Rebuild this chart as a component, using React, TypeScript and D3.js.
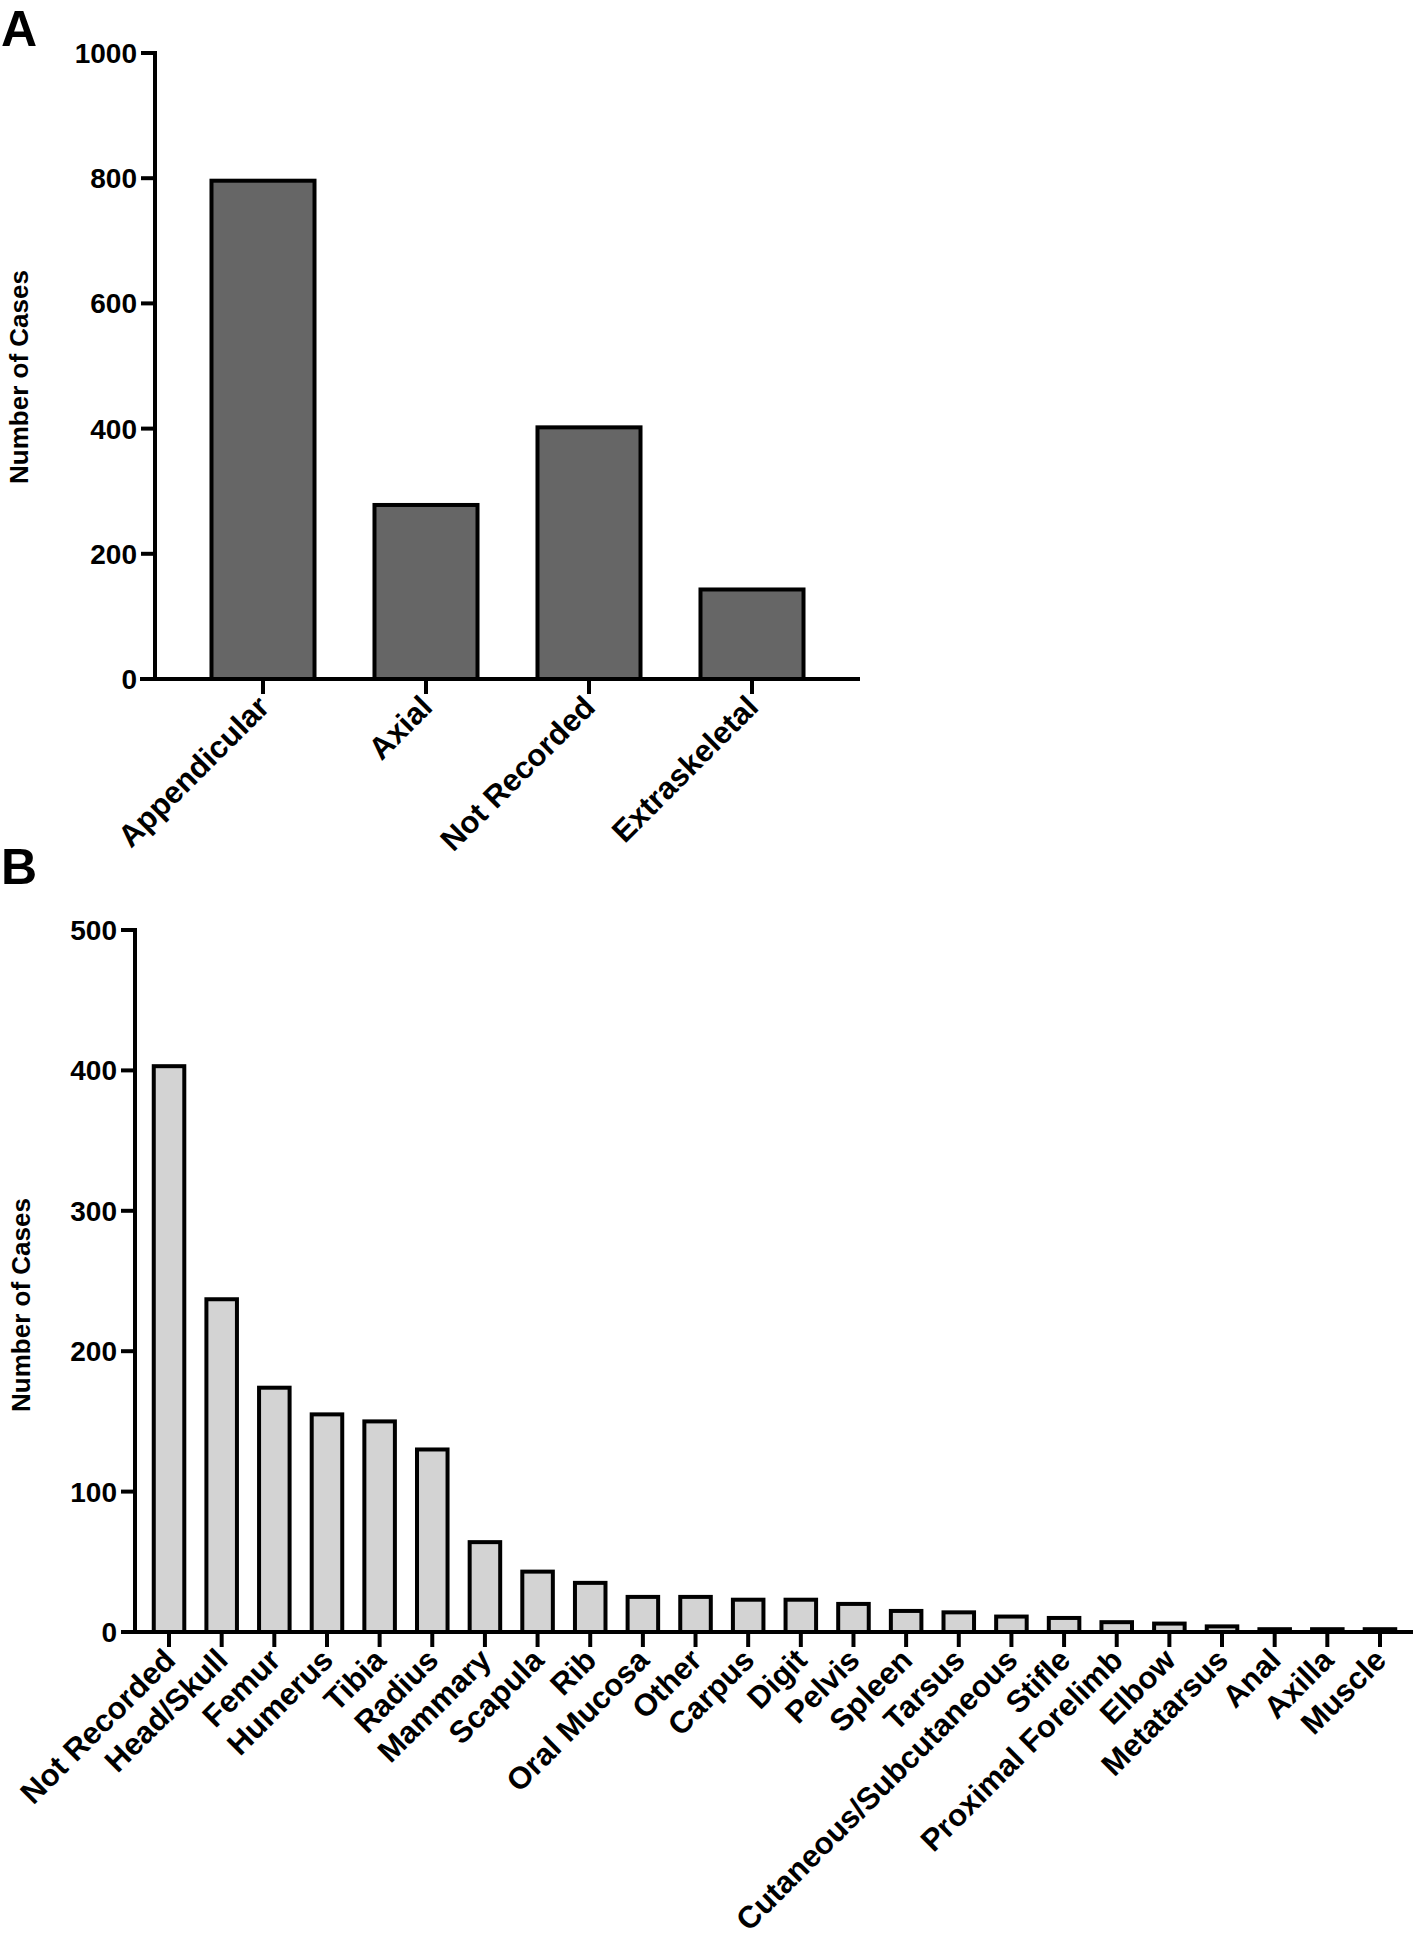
import { useEffect, useRef } from "react"
import * as d3 from "d3"

// Panel A: tumour location
const locationCategories = ["Appendicular", "Axial", "Not Recorded", "Extraskeletal"]
const locationCases = [796, 278, 402, 143]
const locationTicks = [0, 200, 400, 600, 800, 1000]

// Panel B: anatomical site
const siteCategories = [
  "Not Recorded", "Head/Skull", "Femur", "Humerus", "Tibia", "Radius", "Mammary",
  "Scapula", "Rib", "Oral Mucosa", "Other", "Carpus", "Digit", "Pelvis", "Spleen",
  "Tarsus", "Cutaneous/Subcutaneous", "Stifle", "Proximal Forelimb", "Elbow",
  "Metatarsus", "Anal", "Axilla", "Muscle",
]
const siteCases = [403, 237, 174, 155, 150, 130, 64, 43, 35, 25, 25, 23, 23, 20, 15, 14, 11, 10, 7, 6, 4, 2, 2, 2]
const siteTicks = [0, 100, 200, 300, 400, 500]

const FONT = "'Liberation Sans', Arial, Helvetica, sans-serif"

interface PanelSpec {
  letter: string
  letterY: number
  categories: string[]
  values: number[]
  ticks: number[]
  yMax: number
  axisX: number
  yTop: number
  yZero: number
  xAxisStart: number
  xAxisEnd: number
  bandRange: [number, number]
  paddingInner: number
  fill: string
  labelX: number
  labelY: number
}

function drawPanel(svg: d3.Selection<SVGSVGElement, unknown, null, undefined>, p: PanelSpec) {
  const g = svg.append("g")
  const y = d3.scaleLinear().domain([0, p.yMax]).range([p.yZero, p.yTop])
  const x = d3.scaleBand<string>()
    .domain(p.categories)
    .range(p.bandRange)
    .paddingInner(p.paddingInner)
    .paddingOuter(p.paddingInner / 2)

  g.append("text")
    .attr("x", 1)
    .attr("y", p.letterY)
    .attr("font-family", FONT)
    .attr("font-weight", "bold")
    .attr("font-size", 50)
    .text(p.letter)

  // bars
  g.selectAll("rect.bar")
    .data(p.categories)
    .enter()
    .append("rect")
    .attr("class", "bar")
    .attr("x", d => x(d)!)
    .attr("width", x.bandwidth())
    .attr("y", (_, i) => y(p.values[i]))
    .attr("height", (_, i) => p.yZero - y(p.values[i]))
    .attr("fill", p.fill)
    .attr("stroke", "#000")
    .attr("stroke-width", 4)

  // y axis
  g.append("line")
    .attr("x1", p.axisX).attr("x2", p.axisX)
    .attr("y1", p.yTop - 2).attr("y2", p.yZero)
    .attr("stroke", "#000").attr("stroke-width", 4)

  g.selectAll("line.ytick")
    .data(p.ticks.filter(t => t > 0))
    .enter()
    .append("line")
    .attr("x1", p.axisX - 14).attr("x2", p.axisX)
    .attr("y1", d => y(d)).attr("y2", d => y(d))
    .attr("stroke", "#000").attr("stroke-width", 4)

  g.selectAll("text.ytick")
    .data(p.ticks)
    .enter()
    .append("text")
    .attr("x", p.axisX - 18)
    .attr("y", d => y(d))
    .attr("dy", "0.36em")
    .attr("text-anchor", "end")
    .attr("font-family", FONT)
    .attr("font-weight", "bold")
    .attr("font-size", 28)
    .text(d => String(d))

  // x axis
  g.append("line")
    .attr("x1", p.xAxisStart).attr("x2", p.xAxisEnd)
    .attr("y1", p.yZero).attr("y2", p.yZero)
    .attr("stroke", "#000").attr("stroke-width", 4)

  g.selectAll("line.xtick")
    .data(p.categories)
    .enter()
    .append("line")
    .attr("x1", d => x(d)! + x.bandwidth() / 2)
    .attr("x2", d => x(d)! + x.bandwidth() / 2)
    .attr("y1", p.yZero).attr("y2", p.yZero + 15)
    .attr("stroke", "#000").attr("stroke-width", 4)

  g.selectAll("text.xlabel")
    .data(p.categories)
    .enter()
    .append("text")
    .attr("transform", d => `translate(${x(d)! + x.bandwidth() / 2 + 8},${p.yZero + 30}) rotate(-45)`)
    .attr("text-anchor", "end")
    .attr("font-family", FONT)
    .attr("font-weight", "bold")
    .attr("font-size", 31)
    .text(d => d)

  g.append("text")
    .attr("transform", `translate(${p.labelX},${p.labelY}) rotate(-90)`)
    .attr("text-anchor", "middle")
    .attr("font-family", FONT)
    .attr("font-weight", "bold")
    .attr("font-size", 26)
    .text("Number of Cases")
}

export default function App() {
  const svgRef = useRef<SVGSVGElement>(null)

  useEffect(() => {
    if (!svgRef.current) return
    document.body.style.margin = "0"
    const svg = d3.select(svgRef.current)
    svg.selectAll("*").remove()

    drawPanel(svg, {
      letter: "A",
      letterY: 46,
      categories: locationCategories,
      values: locationCases,
      ticks: locationTicks,
      yMax: 1000,
      axisX: 155,
      yTop: 53,
      yZero: 679,
      xAxisStart: 140,
      xAxisEnd: 860,
      bandRange: [181.5, 833.5],
      paddingInner: 0.368,
      fill: "#666666",
      labelX: 28,
      labelY: 377,
    })

    drawPanel(svg, {
      letter: "B",
      letterY: 884,
      categories: siteCategories,
      values: siteCases,
      ticks: siteTicks,
      yMax: 500,
      axisX: 135,
      yTop: 930,
      yZero: 1632,
      xAxisStart: 121,
      xAxisEnd: 1413,
      bandRange: [142.7, 1406.3],
      paddingInner: 0.42,
      fill: "#d3d3d3",
      labelX: 30,
      labelY: 1305,
    })
  }, [])

  return <svg ref={svgRef} width={1418} height={1937} style={{ display: "block", background: "#fff" }} />
}
